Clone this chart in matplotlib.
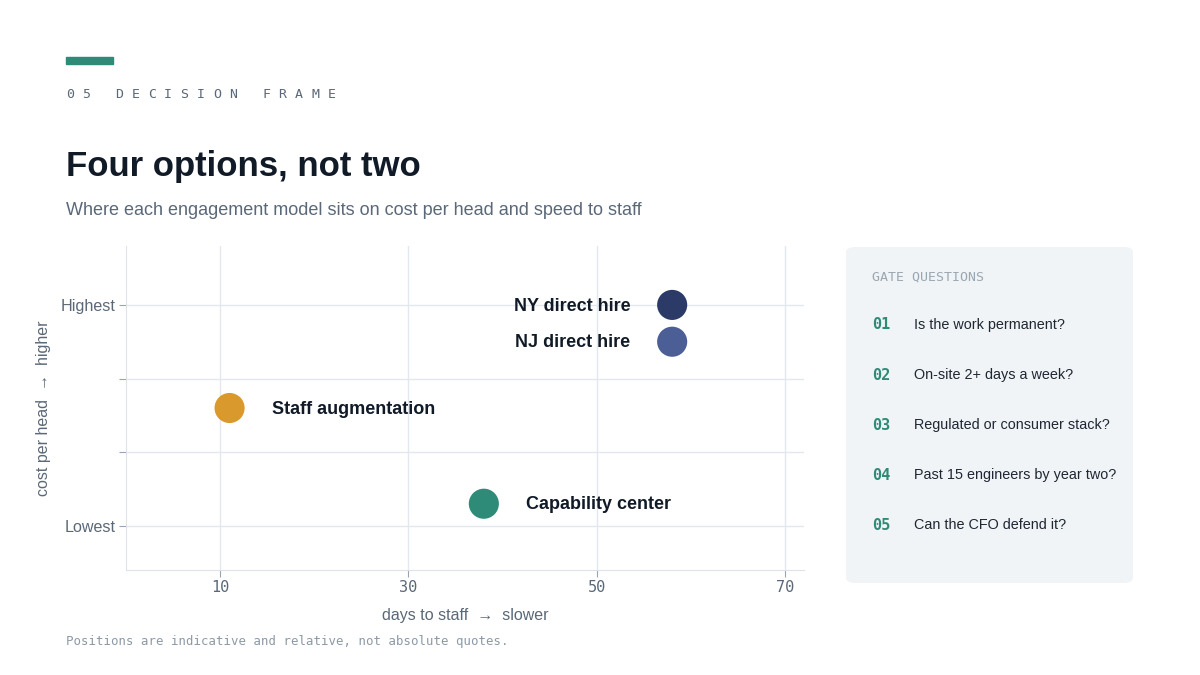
import matplotlib
matplotlib.use("Agg")
import matplotlib.pyplot as plt
from matplotlib.patches import FancyBboxPatch, Rectangle

# data
options = ["NY direct hire", "NJ direct hire", "Staff augmentation", "Capability center"]
days_to_staff = [58, 58, 11, 38]
cost_level = [4.0, 3.5, 2.6, 1.3]
colors = ["#2B3A67", "#4B5E95", "#D9992C", "#2E8B78"]
label_side = ["left", "left", "right", "right"]

x_ticks = [10, 30, 50, 70]
y_ticks = [1, 2, 3, 4]
y_tick_labels = ["Lowest", "", "", "Highest"]

gate_nums = ["01", "02", "03", "04", "05"]
gate_questions = [
    "Is the work permanent?",
    "On-site 2+ days a week?",
    "Regulated or consumer stack?",
    "Past 15 engineers by year two?",
    "Can the CFO defend it?",
]

SANS = ["Liberation Sans", "DejaVu Sans"]
MONO = ["DejaVu Sans Mono"]
GREY = "#5A6878"
TEAL = "#2E8B78"

W, H = 1200, 675
fig = plt.figure(figsize=(12, 6.75), dpi=100)
fig.patch.set_facecolor("white")


def fx(x):
    return x / W


def fy(y):
    return 1 - y / H


# header
fig.patches.append(Rectangle((fx(66), fy(64)), 47 / W, 7 / H, transform=fig.transFigure,
                             color=TEAL, zorder=1))
kicker = "05 DECISION FRAME"
for i, ch in enumerate(kicker):
    fig.text(fx(66 + i * 16.35), fy(94), ch, family=MONO, fontsize=9.5, color=GREY,
             va="center", ha="left")
fig.text(fx(66), fy(176), "Four options, not two", family=SANS, fontsize=25,
         fontweight="bold", color="#111A27", va="baseline")
fig.text(fx(66), fy(215), "Where each engagement model sits on cost per head and speed to staff",
         family=SANS, fontsize=13, color=GREY, va="baseline")

# scatter chart
ax = fig.add_axes([fx(126), fy(570), (804 - 126) / W, (570 - 246) / H])
ax.set_xlim(0, 72)
ax.set_ylim(0.4, 4.8)
ax.grid(True, color="#E3E8EE", linewidth=1)
ax.set_axisbelow(True)
for s in ["top", "right"]:
    ax.spines[s].set_visible(False)
for s in ["left", "bottom"]:
    ax.spines[s].set_color("#DDE3E9")
ax.set_xticks(x_ticks)
ax.set_xticklabels([str(v) for v in x_ticks], family=MONO, fontsize=11, color=GREY)
ax.set_yticks(y_ticks)
ax.set_yticklabels(y_tick_labels, family=SANS, fontsize=11.6, color=GREY)
ax.tick_params(axis="both", length=5, color="#9AA5B1", width=0.8)
ax.tick_params(axis="x", pad=2.5)
ax.tick_params(axis="y", pad=2.2)

ax.scatter(days_to_staff, cost_level, s=470, c=colors, edgecolors="none", zorder=3)
for name, x, y, side in zip(options, days_to_staff, cost_level, label_side):
    off = -42 if side == "left" else 42
    ax.annotate(name, (x, y), xytext=(off * 0.72, -0.8), textcoords="offset points",
                ha="right" if side == "left" else "left", va="center",
                family=SANS, fontsize=13, fontweight="bold", color="#111A27", zorder=4)

ax.set_xlabel("days to staff  \u2192  slower", family=SANS, fontsize=11.5, color=GREY, labelpad=9)
ax.set_ylabel("cost per head  \u2192  higher", family=SANS, fontsize=11.5, color=GREY, labelpad=7)

fig.text(fx(66), fy(641), "Positions are indicative and relative, not absolute quotes.",
         family=MONO, fontsize=8.9, color="#8C99A6", va="center")

# gate questions panel
fig.patches.append(FancyBboxPatch((fx(846), fy(583)), (1133 - 846) / W, (583 - 247) / H,
                                  boxstyle="round,pad=0,rounding_size=0.008",
                                  transform=fig.transFigure, facecolor="#F0F4F7",
                                  edgecolor="none", zorder=0))
fig.text(fx(872), fy(277), "GATE QUESTIONS", family=MONO, fontsize=9.5, color="#9AA7B1",
         va="center")
for i, (num, q) in enumerate(zip(gate_nums, gate_questions)):
    yy = 325 + i * 50
    fig.text(fx(872), fy(yy), num, family=MONO, fontsize=11, fontweight="bold", color=TEAL,
             va="center")
    fig.text(fx(914), fy(yy), q, family=SANS, fontsize=10.4, color="#1F2733", va="center")

fig.savefig("out.png", dpi=100, facecolor="white")
